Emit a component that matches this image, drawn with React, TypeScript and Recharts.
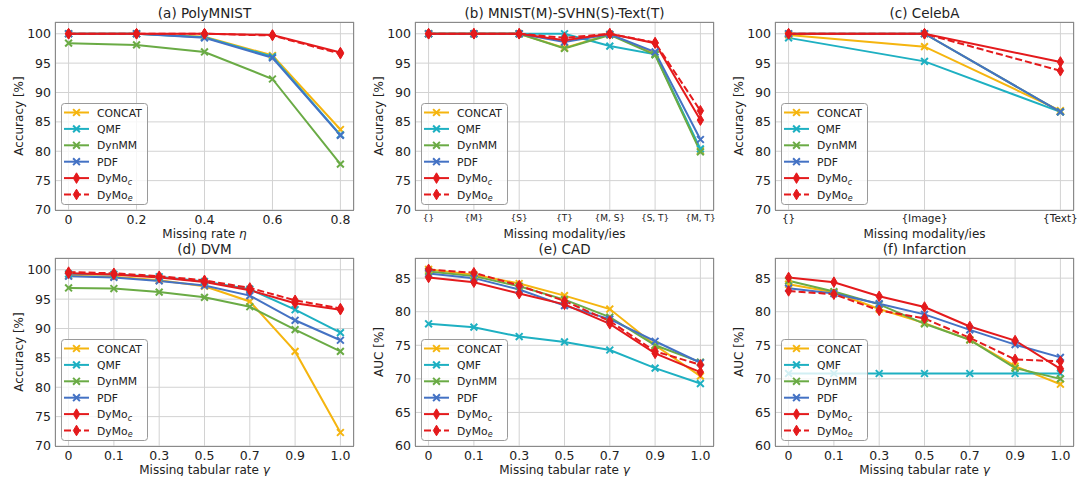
import React from "react";
import { LineChart, Line, XAxis, YAxis, CartesianGrid } from "recharts";

const FONT = "'DejaVu Sans', Verdana, sans-serif";
const TXT = "#222222";

// ─── series meta ─────────────────────────────────────────────────────────────
const METHODS = ["CONCAT", "QMF", "DynMM", "PDF", "DyMo_c", "DyMo_e"];
const COLORS = ["#f5b50f", "#1eb0c2", "#6aab45", "#4472c4", "#e41a1c", "#e41a1c"];

// ─── (a) PolyMNIST ───────────────────────────────────────────────────────────
const aX = ["0", "0.2", "0.4", "0.6", "0.8"];
const aConcat = [100, 100, 99.5, 96.3, 83.7];
const aQmf = [100, 100, 99.4, 96.1, 82.8];
const aDynmm = [98.4, 98.1, 96.9, 92.3, 77.8];
const aPdf = [100, 100, 99.3, 95.9, 82.7];
const aDymoC = [100, 100, 100, 99.8, 96.8];
const aDymoE = [100, 100, 100, 99.7, 96.6];

// ─── (b) MNIST(M)-SVHN(S)-Text(T) ────────────────────────────────────────────
const bX = ["{}", "{M}", "{S}", "{T}", "{M, S}", "{S, T}", "{M, T}"];
const bConcat = [100, 100, 100, 97.6, 99.9, 96.6, 80.1];
const bQmf = [100, 100, 100, 100, 97.9, 96.5, 80.4];
const bDynmm = [100, 100, 100, 97.5, 99.8, 96.4, 79.9];
const bPdf = [100, 100, 100, 98.6, 99.9, 96.9, 82.0];
const bDymoC = [100, 100, 100, 98.9, 100, 98.4, 85.3];
const bDymoE = [100, 100, 100, 99.3, 100, 98.5, 86.9];

// ─── (c) CelebA ──────────────────────────────────────────────────────────────
const cX = ["{}", "{Image}", "{Text}"];
const cConcat = [99.8, 97.8, 86.9];
const cQmf = [99.3, 95.3, 86.7];
const cDynmm = [100, 100, 86.7];
const cPdf = [100, 100, 86.7];
const cDymoC = [100, 100, 95.2];
const cDymoE = [100, 100, 93.7];

// ─── (d) DVM ─────────────────────────────────────────────────────────────────
const tabX = ["0", "0.1", "0.3", "0.5", "0.7", "0.9", "1.0"];
const dConcat = [99.0, 98.8, 98.2, 97.2, 94.6, 86.1, 72.3];
const dQmf = [99.3, 99.2, 98.8, 98.0, 96.7, 93.2, 89.3];
const dDynmm = [96.9, 96.8, 96.2, 95.3, 93.7, 89.8, 86.1];
const dPdf = [98.9, 98.7, 98.1, 97.3, 95.6, 91.4, 88.0];
const dDymoC = [99.4, 99.2, 98.7, 97.9, 96.5, 94.3, 93.2];
const dDymoE = [99.6, 99.4, 98.9, 98.2, 96.9, 94.8, 93.4];

// ─── (e) CAD ─────────────────────────────────────────────────────────────────
const eConcat = [86.3, 85.5, 84.2, 82.4, 80.4, 75.0, 70.4];
const eQmf = [78.2, 77.7, 76.3, 75.5, 74.3, 71.6, 69.3];
const eDynmm = [86.0, 85.3, 83.8, 81.8, 79.2, 75.0, 72.5];
const ePdf = [85.7, 85.0, 83.3, 80.9, 78.9, 75.6, 72.4];
const eDymoC = [85.1, 84.4, 82.7, 81.1, 78.2, 73.8, 71.0];
const eDymoE = [86.3, 85.8, 83.9, 81.6, 78.6, 74.1, 72.1];

// ─── (f) Infarction ──────────────────────────────────────────────────────────
const fConcat = [84.1, 82.9, 80.4, 78.3, 75.8, 71.9, 69.2];
const fQmf = [70.8, 70.8, 70.8, 70.8, 70.8, 70.8, 70.8];
const fDynmm = [84.6, 83.0, 81.1, 78.2, 75.8, 71.6, 70.0];
const fPdf = [83.5, 82.7, 81.2, 79.6, 77.3, 75.1, 73.2];
const fDymoC = [85.1, 84.4, 82.3, 80.7, 77.8, 75.7, 71.5];
const fDymoE = [83.1, 82.6, 80.2, 79.0, 76.1, 72.9, 72.6];

const accTicks = [70, 75, 80, 85, 90, 95, 100];
const aucTicks = [60, 65, 70, 75, 80, 85];

// ─── layout ──────────────────────────────────────────────────────────────────
const W = 360;
const H = 240;
const PL = 55; // plot left (y axis width)
const PR = 6;
const PT = 22;
const XH = 30; // x axis height
const PW = W - PL - PR;
const PH = H - PT - XH;

function markX(props: any, color: string) {
  const { cx, cy, index, dataKey } = props;
  if (cx == null || cy == null) return <g key={`${dataKey}-${index}`} />;
  const r = 3.4;
  return (
    <path
      key={`${dataKey}-${index}`}
      d={`M${cx - r},${cy - r}L${cx + r},${cy + r}M${cx - r},${cy + r}L${cx + r},${cy - r}`}
      stroke={color}
      strokeWidth={2}
      strokeDasharray="none"
      fill="none"
    />
  );
}

function markD(props: any, color: string) {
  const { cx, cy, index, dataKey } = props;
  if (cx == null || cy == null) return <g key={`${dataKey}-${index}`} />;
  return (
    <path
      key={`${dataKey}-${index}`}
      d={`M${cx},${cy - 5.3}L${cx + 3.2},${cy}L${cx},${cy + 5.3}L${cx - 3.2},${cy}Z`}
      fill={color}
      stroke={color}
      strokeWidth={1}
      strokeDasharray="none"
    />
  );
}

function MethodName({ name }: { name: string }) {
  if (name.startsWith("DyMo_")) {
    return (
      <>
        DyMo
        <tspan fontStyle="italic" fontSize={8} dy={2.5}>
          {name.slice(5)}
        </tspan>
      </>
    );
  }
  return <>{name}</>;
}

function LegendBox() {
  const bx = PL + 6;
  const bh = 101;
  const by = PT + PH - 6 - bh;
  return (
    <g>
      <rect x={bx + 0.5} y={by + 0.5} width={86} height={bh} rx={3} fill="#ffffff" fillOpacity={0.8} stroke="#9a9a9a" strokeWidth={1} />
      {METHODS.map((m, k) => {
        const cy = by + 9.5 + k * 16.4;
        const mx = bx + 15.5;
        const dashed = k === 5;
        return (
          <g key={m}>
            <line x1={bx + 3} x2={bx + 28} y1={cy} y2={cy} stroke={COLORS[k]} strokeWidth={2} strokeDasharray={dashed ? "7 3" : undefined} />
            {k < 4
              ? markX({ cx: mx, cy, index: k, dataKey: "lg" }, COLORS[k])
              : markD({ cx: mx, cy, index: k, dataKey: "lg" }, COLORS[k])}
            <text x={bx + 36} y={cy + 4} fontSize={10.8} fill={TXT} fontFamily={FONT}>
              <MethodName name={m} />
            </text>
          </g>
        );
      })}
    </g>
  );
}

interface PanelProps {
  left: number;
  top: number;
  title: string;
  xLabels: string[];
  series: number[][];
  yDomain: [number, number];
  yTicks: number[];
  yLabel: string;
  xLabel: React.ReactNode;
  xTickFont: number;
}

function Panel({ left, top, title, xLabels, series, yDomain, yTicks, yLabel, xLabel, xTickFont }: PanelProps) {
  const n = xLabels.length;
  const pad = (n - 1) * 0.05;
  const data = xLabels.map((_, i) => {
    const row: Record<string, number> = { i };
    series.forEach((s, k) => {
      row["s" + k] = s[i];
    });
    return row;
  });
  const cx = PL + PW / 2;

  return (
    <div style={{ position: "absolute", left, top, width: W, height: H }}>
      <LineChart width={W} height={H} data={data} margin={{ top: PT, right: PR, bottom: 0, left: 0 }}>
        <CartesianGrid stroke="#d2d2d2" strokeWidth={1} />
        <XAxis
          dataKey="i"
          type="number"
          domain={[-pad, n - 1 + pad]}
          ticks={xLabels.map((_, i) => i)}
          tickFormatter={(v: number) => xLabels[Math.round(v)] ?? ""}
          interval={0}
          height={XH}
          tickSize={0}
          tickMargin={5}
          axisLine={false}
          allowDataOverflow
          tick={{ fontSize: xTickFont, fill: TXT, fontFamily: FONT }}
        />
        <YAxis
          type="number"
          domain={yDomain}
          ticks={yTicks}
          interval={0}
          width={PL}
          tickSize={0}
          tickMargin={4}
          axisLine={false}
          allowDataOverflow
          tick={{ fontSize: 12.5, fill: TXT, fontFamily: FONT }}
        />
        {series.map((_, k) => (
          <Line
            key={k}
            type="linear"
            dataKey={"s" + k}
            stroke={COLORS[k]}
            strokeWidth={2}
            strokeDasharray={k === 5 ? "7 3" : undefined}
            dot={(p: any) => (k < 4 ? markX(p, COLORS[k]) : markD(p, COLORS[k]))}
            activeDot={false}
            isAnimationActive={false}
          />
        ))}
      </LineChart>
      <svg width={W} height={H} style={{ position: "absolute", left: 0, top: 0, pointerEvents: "none" }}>
        <rect x={PL + 0.5} y={PT + 0.5} width={PW - 1} height={PH} fill="none" stroke="#8a8a8a" strokeWidth={1} />
        <LegendBox />
        <text x={cx} y={PT - 4.5} textAnchor="middle" fontSize={13.5} fill={TXT} fontFamily={FONT}>
          {title}
        </text>
        <text x={cx} y={H - 2.5} textAnchor="middle" fontSize={12} fill={TXT} fontFamily={FONT}>
          {xLabel}
        </text>
        <text
          x={0}
          y={0}
          transform={`translate(23, ${PT + PH / 2}) rotate(-90)`}
          textAnchor="middle"
          fontSize={12}
          fill={TXT}
          fontFamily={FONT}
        >
          {yLabel}
        </text>
      </svg>
    </div>
  );
}

const rateEta = (
  <>
    Missing rate <tspan fontStyle="italic">η</tspan>
  </>
);
const rateGamma = (
  <>
    Missing tabular rate <tspan fontStyle="italic">γ</tspan>
  </>
);

export default function App() {
  return (
    <div
      style={{
        position: "fixed",
        left: 0,
        top: 0,
        width: 1079,
        height: 481,
        overflow: "hidden",
        background: "#ffffff",
        fontFamily: FONT,
      }}
    >
      <Panel left={0} top={0} title="(a) PolyMNIST" xLabels={aX}
        series={[aConcat, aQmf, aDynmm, aPdf, aDymoC, aDymoE]}
        yDomain={[70, 102]} yTicks={accTicks} yLabel="Accuracy [%]" xLabel={rateEta} xTickFont={12.5} />
      <Panel left={360} top={0} title="(b) MNIST(M)-SVHN(S)-Text(T)" xLabels={bX}
        series={[bConcat, bQmf, bDynmm, bPdf, bDymoC, bDymoE]}
        yDomain={[70, 102]} yTicks={accTicks} yLabel="Accuracy [%]" xLabel="Missing modality/ies" xTickFont={9} />
      <Panel left={720} top={0} title="(c) CelebA" xLabels={cX}
        series={[cConcat, cQmf, cDynmm, cPdf, cDymoC, cDymoE]}
        yDomain={[70, 102]} yTicks={accTicks} yLabel="Accuracy [%]" xLabel="Missing modality/ies" xTickFont={10.5} />
      <Panel left={0} top={236} title="(d) DVM" xLabels={tabX}
        series={[dConcat, dQmf, dDynmm, dPdf, dDymoC, dDymoE]}
        yDomain={[70, 102]} yTicks={accTicks} yLabel="Accuracy [%]" xLabel={rateGamma} xTickFont={12.5} />
      <Panel left={360} top={236} title="(e) CAD" xLabels={tabX}
        series={[eConcat, eQmf, eDynmm, ePdf, eDymoC, eDymoE]}
        yDomain={[60, 88]} yTicks={aucTicks} yLabel="AUC [%]" xLabel={rateGamma} xTickFont={12.5} />
      <Panel left={720} top={236} title="(f) Infarction" xLabels={tabX}
        series={[fConcat, fQmf, fDynmm, fPdf, fDymoC, fDymoE]}
        yDomain={[60, 88]} yTicks={aucTicks} yLabel="AUC [%]" xLabel={rateGamma} xTickFont={12.5} />
    </div>
  );
}
